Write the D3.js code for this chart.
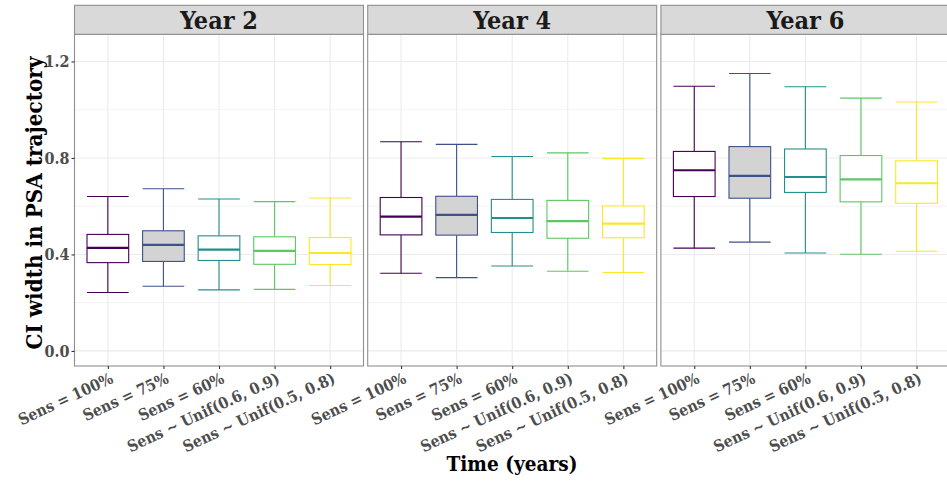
<!DOCTYPE html>
<html>
<head>
<meta charset="utf-8">
<script src="https://cdn.jsdelivr.net/npm/d3@7"></script>
<style>
  html, body { margin: 0; padding: 0; background: #ffffff; }
  svg { display: block; }
  text { font-stretch: condensed; }
</style>
</head>
<body>
<svg id="chart" width="947" height="482"></svg>
<script>
// ---------------- data ----------------
const years = ["Year 2", "Year 4", "Year 6"];
const categories = ["Sens = 100%", "Sens = 75%", "Sens = 60%", "Sens ~ Unif(0.6, 0.9)", "Sens ~ Unif(0.5, 0.8)"];
const colors = ["#440154", "#3B528B", "#21908C", "#5DC863", "#FDE725"];
const fills = ["#FFFFFF", "#D3D3D3", "#FFFFFF", "#FFFFFF", "#FFFFFF"];
// per year (rows) and category (columns)
const whiskerLow = [
  [0.242, 0.268, 0.253, 0.255, 0.271],
  [0.322, 0.304, 0.352, 0.330, 0.325],
  [0.426, 0.451, 0.406, 0.401, 0.413]
];
const q1 = [
  [0.366, 0.371, 0.375, 0.359, 0.358],
  [0.481, 0.480, 0.491, 0.467, 0.469],
  [0.640, 0.633, 0.657, 0.618, 0.612]
];
const median = [
  [0.427, 0.440, 0.420, 0.415, 0.406],
  [0.557, 0.564, 0.551, 0.538, 0.528],
  [0.749, 0.726, 0.721, 0.711, 0.695]
];
const q3 = [
  [0.483, 0.498, 0.477, 0.473, 0.470],
  [0.636, 0.641, 0.628, 0.624, 0.601],
  [0.827, 0.847, 0.837, 0.810, 0.788]
];
const whiskerHigh = [
  [0.640, 0.672, 0.630, 0.619, 0.634],
  [0.867, 0.856, 0.806, 0.821, 0.798],
  [1.097, 1.150, 1.095, 1.048, 1.032]
];
const yMajorTicks = [0.0, 0.4, 0.8, 1.2];
const yMinorTicks = [0.2, 0.6, 1.0];
const yLimits = [0, 1.25];
const yTitle = "CI width in PSA trajectory";
const xTitle = "Time (years)";

// ---------------- layout ----------------
const FONT = "'DejaVu Serif Condensed', 'DejaVu Serif', serif";
const panelLeft0 = 74.5, panelStep = 293.2, panelW = 289;
const stripTop = 5.3, panelTop = 34.3, panelBottom = 366;
const border = "#8F8F8F";
const gridCol = "#EBEBEB";
const textCol = "#4D4D4D";
const angle = 25;

const svg = d3.select("#chart");

const span = yLimits[1] - yLimits[0];
const y = d3.scaleLinear()
  .domain([yLimits[0] - 0.05 * span, yLimits[1] + 0.05 * span])
  .range([panelBottom, panelTop]);

function fitSize(text, weight, target, base) {
  const t = svg.append("text").attr("font-family", FONT).attr("font-weight", weight)
    .attr("font-size", base).text(text);
  const w = t.node().getComputedTextLength();
  t.remove();
  return base * target / w;
}

const tickFont = fitSize("Sens ~ Unif(0.6, 0.9)", "bold", 166, 14);
const yTickFont = fitSize("1.2", "bold", 25, 15);
const stripFont = fitSize("Year 2", "bold", 78, 22);
const titleFontY = fitSize(yTitle, "bold", 293, 20);
const titleFontX = fitSize(xTitle, "bold", 131, 20);

years.forEach((yr, p) => {
  const left = panelLeft0 + p * panelStep;
  const x = d3.scalePoint().domain(categories).range([left, left + panelW]).padding(0.6);
  const bw = x.step() * 0.75;
  const g = svg.append("g");

  g.append("rect").attr("x", left).attr("y", panelTop).attr("width", panelW)
    .attr("height", panelBottom - panelTop).attr("fill", "#fff");

  g.selectAll(".ymin").data(yMinorTicks).join("line")
    .attr("x1", left).attr("x2", left + panelW)
    .attr("y1", d => y(d)).attr("y2", d => y(d))
    .attr("stroke", gridCol).attr("stroke-width", 0.6);
  g.selectAll(".ymaj").data(yMajorTicks).join("line")
    .attr("x1", left).attr("x2", left + panelW)
    .attr("y1", d => y(d)).attr("y2", d => y(d))
    .attr("stroke", gridCol).attr("stroke-width", 1.1);
  g.selectAll(".xmaj").data(categories).join("line")
    .attr("x1", d => x(d)).attr("x2", d => x(d))
    .attr("y1", panelTop).attr("y2", panelBottom)
    .attr("stroke", gridCol).attr("stroke-width", 1.1);

  categories.forEach((c, i) => {
    const cx = x(c);
    const col = colors[i];
    const bg = g.append("g").attr("stroke", col).attr("stroke-width", 1.1).attr("fill", "none");
    bg.append("line").attr("x1", cx).attr("x2", cx).attr("y1", y(q3[p][i])).attr("y2", y(whiskerHigh[p][i]));
    bg.append("line").attr("x1", cx).attr("x2", cx).attr("y1", y(q1[p][i])).attr("y2", y(whiskerLow[p][i]));
    bg.append("line").attr("x1", cx - bw / 2).attr("x2", cx + bw / 2).attr("y1", y(whiskerHigh[p][i])).attr("y2", y(whiskerHigh[p][i]));
    bg.append("line").attr("x1", cx - bw / 2).attr("x2", cx + bw / 2).attr("y1", y(whiskerLow[p][i])).attr("y2", y(whiskerLow[p][i]));
    bg.append("rect").attr("x", cx - bw / 2).attr("width", bw)
      .attr("y", y(q3[p][i])).attr("height", y(q1[p][i]) - y(q3[p][i]))
      .attr("fill", fills[i]);
    bg.append("line").attr("x1", cx - bw / 2).attr("x2", cx + bw / 2)
      .attr("y1", y(median[p][i])).attr("y2", y(median[p][i])).attr("stroke-width", 2.2);
  });

  g.append("rect").attr("x", left).attr("y", panelTop).attr("width", panelW)
    .attr("height", panelBottom - panelTop).attr("fill", "none")
    .attr("stroke", border).attr("stroke-width", 1.1);

  g.append("rect").attr("x", left).attr("y", stripTop).attr("width", panelW)
    .attr("height", panelTop - stripTop).attr("fill", "#D9D9D9")
    .attr("stroke", border).attr("stroke-width", 1.1);
  g.append("text").attr("x", left + panelW / 2).attr("y", (stripTop + panelTop) / 2)
    .attr("dy", "0.36em").attr("text-anchor", "middle")
    .attr("font-family", FONT).attr("font-weight", "bold").attr("font-size", stripFont)
    .attr("fill", "#1A1A1A").text(yr);

  const ax = g.append("g").attr("transform", `translate(0,${panelBottom})`)
    .call(d3.axisBottom(x).tickSize(3).tickPadding(0));
  ax.select(".domain").remove();
  ax.selectAll(".tick line").attr("stroke", "#333333").attr("stroke-width", 1.1);
  ax.selectAll(".tick text")
    .attr("font-family", FONT).attr("font-weight", "bold").attr("font-size", tickFont)
    .attr("fill", textCol).attr("text-anchor", "end")
    .attr("x", 1).attr("y", 6).attr("dy", "0.72em")
    .attr("transform", `rotate(-${angle} 1 6)`);

  if (p === 0) {
    const ay = g.append("g").attr("transform", `translate(${left},0)`)
      .call(d3.axisLeft(y).tickValues(yMajorTicks).tickFormat(d3.format(".1f")).tickSize(3).tickPadding(2));
    ay.select(".domain").remove();
    ay.selectAll(".tick line").attr("stroke", "#333333").attr("stroke-width", 1.1);
    ay.selectAll(".tick text")
      .attr("font-family", FONT).attr("font-weight", "bold").attr("font-size", yTickFont)
      .attr("fill", textCol);
  }
});

svg.append("text")
  .attr("transform", `translate(42,203) rotate(-90)`)
  .attr("text-anchor", "middle")
  .attr("font-family", FONT).attr("font-weight", "bold").attr("font-size", titleFontY)
  .attr("fill", "#000").text(yTitle);

svg.append("text")
  .attr("x", 512).attr("y", 471)
  .attr("text-anchor", "middle")
  .attr("font-family", FONT).attr("font-weight", "bold").attr("font-size", titleFontX)
  .attr("fill", "#000").text(xTitle);
</script>
</body>
</html>
